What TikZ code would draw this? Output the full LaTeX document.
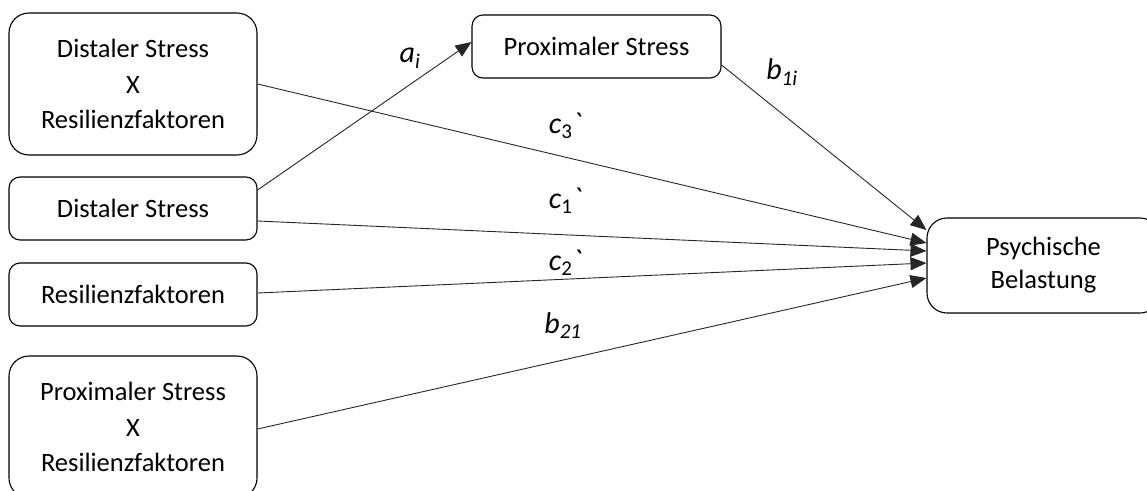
\documentclass[tikz,border=0pt]{standalone}
\usepackage{fontspec}
\setmainfont{Carlito}
\usetikzlibrary{arrows.meta}
\tikzset{
  box/.style={draw=black, line width=1.1pt, align=center, inner sep=0pt,
    font=\fontsize{26.5}{35.5}\selectfont},
  conn/.style={draw=black!85, line width=0.9pt, -{Triangle[length=16pt,width=13pt]}},
  lab/.style={font=\fontsize{30}{34}\selectfont\itshape, inner sep=0pt},
}
\begin{document}
\begin{tikzpicture}[x=1pt,y=-1pt]
\useasboundingbox (0,0) rectangle (1147,490);
\node[box, rounded corners=20pt, minimum width=248pt, minimum height=142pt] (dxr) at (133,84) {Distaler Stress\\X\\Resilienzfaktoren};
\node[box, rounded corners=11pt, minimum width=248pt, minimum height=63pt] (ds) at (133,208.5) {Distaler Stress};
\node[box, rounded corners=11pt, minimum width=248pt, minimum height=63pt] (rf) at (133,294.5) {Resilienzfaktoren};
\node[box, rounded corners=20pt, minimum width=248pt, minimum height=142pt] (pxr) at (133,427) {Proximaler Stress\\X\\Resilienzfaktoren};
\node[box, rounded corners=11pt, minimum width=249pt, minimum height=63pt] (ps) at (596.5,46.5) {Proximaler Stress};
\node[box, rounded corners=20pt, minimum width=233pt, minimum height=95pt, font=\fontsize{26.5}{33}\selectfont] (pb) at (1043.5,265.5) {Psychische\\Belastung};

\draw[conn] ([yshift=18.5pt]ds.east) -- ([yshift=4.5pt]ps.west);
\draw[conn] ([yshift=-18.5pt]ps.east) -- ([yshift=35.5pt]pb.west);
\draw[conn] (dxr.east) -- ([yshift=22.5pt]pb.west);
\draw[conn] ([yshift=-12.5pt]ds.east) -- ([yshift=14.5pt]pb.west);
\draw[conn] ([yshift=1.5pt]rf.east) -- ([yshift=2.5pt]pb.west);
\draw[conn] ([yshift=-2pt]pxr.east) -- ([yshift=-12.5pt]pb.west);

\node[lab] (la) at (410,58) {a\textsubscript{i}};
\node[lab] (lb1) at (782,72) {b\textsubscript{1i}};
\node[lab] (lc3) at (565,126) {c\textsubscript{\upshape 3}\textasciigrave};
\node[lab] (lc1) at (565,201) {c\textsubscript{\upshape 1}\textasciigrave};
\node[lab] (lc2) at (565,263) {c\textsubscript{\upshape 2}\textasciigrave};
\node[lab] (lb21) at (563,326) {b\textsubscript{21}};
\end{tikzpicture}
\end{document}
